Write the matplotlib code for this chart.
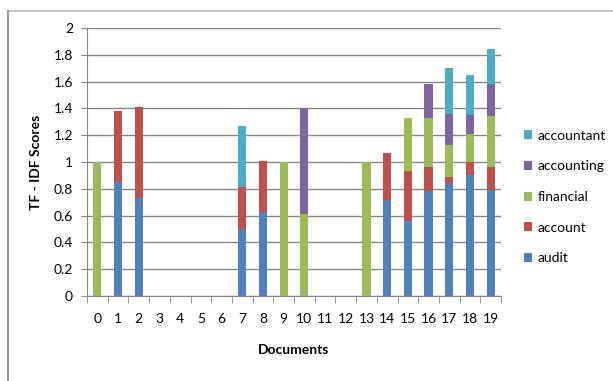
import matplotlib.pyplot as plt
import numpy as np
from matplotlib.lines import Line2D

plt.rcParams['font.family'] = ['Lato', 'DejaVu Sans']

docs = list(range(20))
audit      = [0, 0.85, 0.73, 0, 0, 0, 0, 0.50, 0.63, 0, 0,    0, 0, 0, 0.72, 0.56, 0.78, 0.84, 0.90, 0.79]
account    = [0, 0.53, 0.68, 0, 0, 0, 0, 0.31, 0.38, 0, 0,    0, 0, 0, 0.35, 0.37, 0.18, 0.05, 0.10, 0.17]
financial  = [1.0, 0, 0,    0, 0, 0, 0, 0,    0,    1.0, 0.61, 0, 0, 1.0, 0, 0.40, 0.37, 0.24, 0.21, 0.38]
accounting = [0, 0, 0,      0, 0, 0, 0, 0,    0,    0, 0.79, 0, 0, 0,   0, 0,    0.25, 0.23, 0.14, 0.24]
accountant = [0, 0, 0,      0, 0, 0, 0, 0.46, 0,    0, 0,    0, 0, 0,   0, 0,    0,    0.34, 0.30, 0.26]

series = [('audit', audit, '#4F81BD'),
          ('account', account, '#C0504D'),
          ('financial', financial, '#9BBB59'),
          ('accounting', accounting, '#8064A2'),
          ('accountant', accountant, '#4BACC6')]

fig = plt.figure(figsize=(6.13, 3.81), dpi=100)
ax = fig.add_axes([87/613, 85/381, 414/613, 268/381])

x = np.arange(len(docs))
bottom = np.zeros(len(docs))
handles = []
for name, vals, col in series:
    h = ax.bar(x, vals, 0.4, bottom=bottom, color=col, label=name, zorder=3)
    handles.append(h)
    bottom += np.array(vals)

grey = '#868686'
ax.set_xlim(-0.5, 19.5)
ax.set_ylim(0, 2)
ax.set_yticks(np.arange(0, 2.01, 0.2))
ax.set_yticklabels(['0', '0.2', '0.4', '0.6', '0.8', '1', '1.2', '1.4', '1.6', '1.8', '2'])
ax.set_xticks(x)
ax.set_xticklabels([str(d) for d in docs])
ax.set_xticks(np.arange(-0.5, 20, 1), minor=True)
ax.tick_params(axis='x', which='major', length=0, pad=12, labelsize=10)
ax.tick_params(axis='x', which='minor', length=5, color=grey, direction='out')
ax.tick_params(axis='y', length=4, color=grey, labelsize=10, pad=6)
ax.grid(axis='y', color=grey, linewidth=1, zorder=0)
for s in ['top', 'right']:
    ax.spines[s].set_visible(False)
ax.spines['left'].set_color(grey)
ax.spines['bottom'].set_color(grey)

ax.set_ylabel('TF - IDF Scores', fontweight='bold', fontsize=10, labelpad=8)
ax.set_xlabel('Documents', fontweight='bold', fontsize=10, labelpad=14)

fig.legend(handles[::-1], [s[0] for s in series][::-1], loc='center left',
           bbox_to_anchor=(524/613, 1 - 197/381), frameon=False, fontsize=10,
           borderpad=0, borderaxespad=0,
           handlelength=0.6, handleheight=0.6, handletextpad=0.4, labelspacing=1.35)

# outer frame: only top and left edges are visible in the reference
fig.add_artist(Line2D([8/613, 1], [1 - 11/381, 1 - 11/381], transform=fig.transFigure,
                      color='#BBBBBB', linewidth=1.2))
fig.add_artist(Line2D([8/613, 8/613], [0, 1 - 11/381], transform=fig.transFigure,
                      color='#888888', linewidth=1.2))

fig.savefig('out.png', dpi=100)
